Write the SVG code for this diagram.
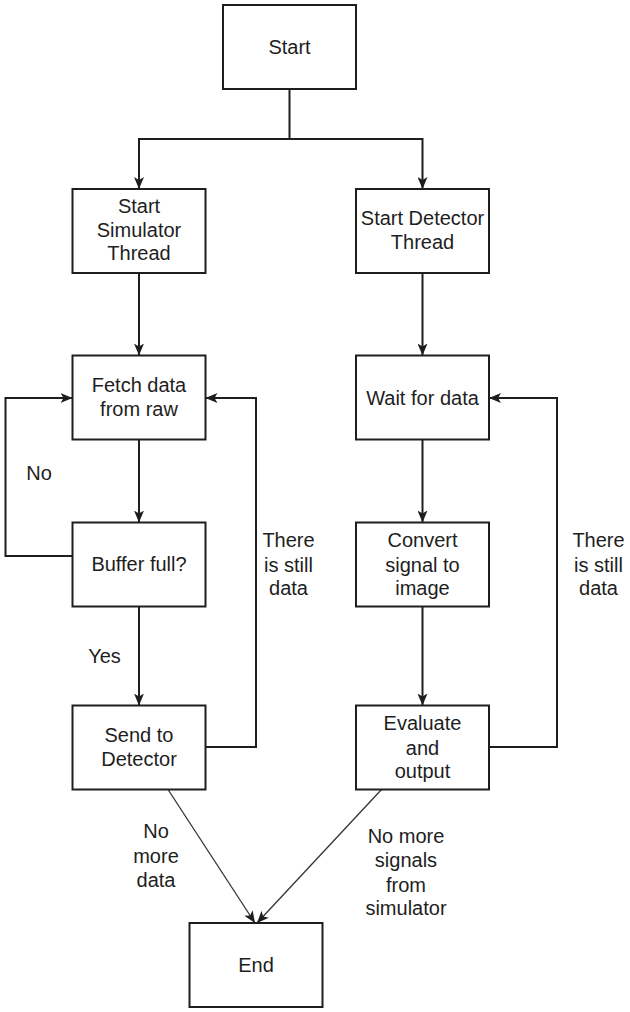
<svg xmlns="http://www.w3.org/2000/svg" width="630" height="1012" viewBox="0 0 630 1012">
<style>
.box{fill:#fff;stroke:#1e1e1e;stroke-width:2}
.t{font-family:"Liberation Sans",Arial,sans-serif;font-size:20px;fill:#1e1e1e;text-anchor:middle}
.c{fill:none;stroke:#1e1e1e;stroke-width:2}
.d{fill:none;stroke:#333;stroke-width:1.3}
</style>
<defs>
<marker id="ah" viewBox="0 0 12 10" refX="12" refY="5" markerWidth="12" markerHeight="10" markerUnits="userSpaceOnUse" orient="auto">
<path d="M0,0 L12,5 L0,10 L3,5 z" fill="#1e1e1e"/>
</marker>
</defs>
<rect width="630" height="1012" fill="#fff"/>
<g id="connectors">
<path class="c" d="M289.5,89 V139 H139 V189" marker-end="url(#ah)"/>
<path class="c" d="M289.5,139 H422.5 V189" marker-end="url(#ah)"/>
<path class="c" d="M139,273 V355.5" marker-end="url(#ah)"/>
<path class="c" d="M422.5,273 V355.5" marker-end="url(#ah)"/>
<path class="c" d="M139,439.5 V522.5" marker-end="url(#ah)"/>
<path class="c" d="M422.5,439.5 V522.5" marker-end="url(#ah)"/>
<path class="c" d="M139,606.5 V705.5" marker-end="url(#ah)"/>
<path class="c" d="M422.5,606.5 V705.5" marker-end="url(#ah)"/>
<path class="c" d="M72.5,556 H5.5 V398 H72.5" marker-end="url(#ah)"/>
<path class="c" d="M205.5,747 H256 V398 H205.5" marker-end="url(#ah)"/>
<path class="c" d="M489,747 H557 V398 H489" marker-end="url(#ah)"/>
<path class="d" d="M168,789.5 L255,923" marker-end="url(#ah)"/>
<path class="d" d="M381.5,789.5 L257,923" marker-end="url(#ah)"/>
<text class="t" x="39" y="480">No</text>
<text class="t" x="104.5" y="663">Yes</text>
<text class="t" x="288.5" y="547">There</text>
<text class="t" x="288.5" y="572">is still</text>
<text class="t" x="288.5" y="595">data</text>
<text class="t" x="598.5" y="547">There</text>
<text class="t" x="598.5" y="572">is still</text>
<text class="t" x="598.5" y="595">data</text>
<text class="t" x="156" y="838">No</text>
<text class="t" x="156" y="863">more</text>
<text class="t" x="156" y="887">data</text>
<text class="t" x="406" y="843">No more</text>
<text class="t" x="406" y="867">signals</text>
<text class="t" x="406" y="892">from</text>
<text class="t" x="406" y="915">simulator</text>
</g>
<g id="start"><rect class="box" x="223" y="5" width="133" height="84"/><text class="t" x="289.5" y="54">Start</text></g>
<g id="sim"><rect class="box" x="72.5" y="189" width="133" height="84"/><text class="t" x="139" y="213">Start</text><text class="t" x="139" y="237">Simulator</text><text class="t" x="139" y="260">Thread</text></g>
<g id="det"><rect class="box" x="356" y="189" width="133" height="84"/><text class="t" x="422.5" y="225">Start Detector</text><text class="t" x="422.5" y="249">Thread</text></g>
<g id="fetch"><rect class="box" x="72.5" y="355.5" width="133" height="84"/><text class="t" x="139" y="392">Fetch data</text><text class="t" x="139" y="416">from raw</text></g>
<g id="wait"><rect class="box" x="356" y="355.5" width="133" height="84"/><text class="t" x="422.5" y="405">Wait for data</text></g>
<g id="buffer"><rect class="box" x="72.5" y="522.5" width="133" height="84"/><text class="t" x="139" y="571">Buffer full?</text></g>
<g id="convert"><rect class="box" x="356" y="522.5" width="133" height="84"/><text class="t" x="422.5" y="547">Convert</text><text class="t" x="422.5" y="572">signal to</text><text class="t" x="422.5" y="595">image</text></g>
<g id="send"><rect class="box" x="72.5" y="705.5" width="133" height="84"/><text class="t" x="139" y="742">Send to</text><text class="t" x="139" y="766">Detector</text></g>
<g id="evaluate"><rect class="box" x="356" y="705.5" width="133" height="84"/><text class="t" x="422.5" y="730">Evaluate</text><text class="t" x="422.5" y="755">and</text><text class="t" x="422.5" y="778">output</text></g>
<g id="end"><rect class="box" x="189.5" y="923" width="133" height="84"/><text class="t" x="256" y="972">End</text></g>
</svg>
